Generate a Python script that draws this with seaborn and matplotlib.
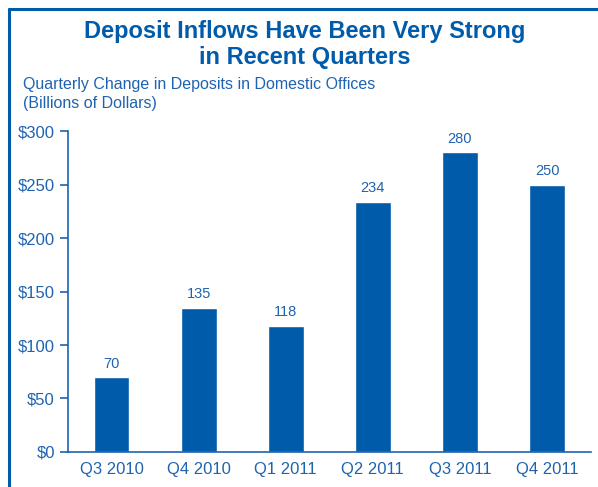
import pandas as pd
import matplotlib.pyplot as plt
import seaborn as sns
from matplotlib.lines import Line2D

# data
quarters = ["Q3 2010", "Q4 2010", "Q1 2011", "Q2 2011", "Q3 2011", "Q4 2011"]
inflows = [70, 135, 118, 234, 280, 250]
yticks = [0, 50, 100, 150, 200, 250, 300]
ylabels = ["$0", "$50", "$100", "$150", "$200", "$250", "$300"]

df = pd.DataFrame({"Quarter": quarters, "Inflow": inflows})

blue = "#005baa"
text_blue = "#1f63b0"

sns.set_style("white")
plt.rcParams["font.family"] = ["Liberation Sans", "DejaVu Sans"]

fig = plt.figure(figsize=(5.98, 4.87), dpi=100)
ax = fig.add_axes([0.1137, 0.0719, 0.874, 0.659])

sns.barplot(x="Quarter", y="Inflow", data=df, color=blue, width=0.41,
            saturation=1, ax=ax)

for i, v in enumerate(inflows):
    ax.text(i, v + 6, str(v), ha="center", va="bottom", fontsize=10.5, color=text_blue)

ax.set_xlim(-0.5, 5.5)
ax.set_ylim(0, 300)
ax.set_yticks(yticks)
ax.set_yticklabels(ylabels)
ax.set_xticks(range(len(quarters)))
ax.set_xticks([i - 0.5 for i in range(len(quarters) + 1)], minor=True)
ax.tick_params(axis="x", which="major", length=0, pad=7, labelsize=12, labelcolor=text_blue)
ax.tick_params(axis="x", which="minor", length=6, width=1.2, color=text_blue, direction="out")
ax.tick_params(axis="y", length=6, width=1.2, color=text_blue, labelsize=12,
               labelcolor=text_blue, direction="out", left=True)
ax.set_xlabel("")
ax.set_ylabel("")
for s in ["top", "right"]:
    ax.spines[s].set_visible(False)
for s in ["left", "bottom"]:
    ax.spines[s].set_color(text_blue)
    ax.spines[s].set_linewidth(1.2)

fig.text(0.51, 0.909, "Deposit Inflows Have Been Very Strong\nin Recent Quarters",
         ha="center", va="center", fontsize=17, fontweight="bold", color=blue,
         linespacing=1.2)
fig.text(0.038, 0.807, "Quarterly Change in Deposits in Domestic Offices\n(Billions of Dollars)",
         ha="left", va="center", fontsize=11.5, color=text_blue, linespacing=1.3)

# frame lines
bx = 8.5 / 598
by = 1 - 8.5 / 487
fig.add_artist(Line2D([bx, bx], [0, by], transform=fig.transFigure, color=blue, lw=2.2))
fig.add_artist(Line2D([bx, 1], [by, by], transform=fig.transFigure, color=blue, lw=2.2))

plt.savefig("out.png", dpi=100)
